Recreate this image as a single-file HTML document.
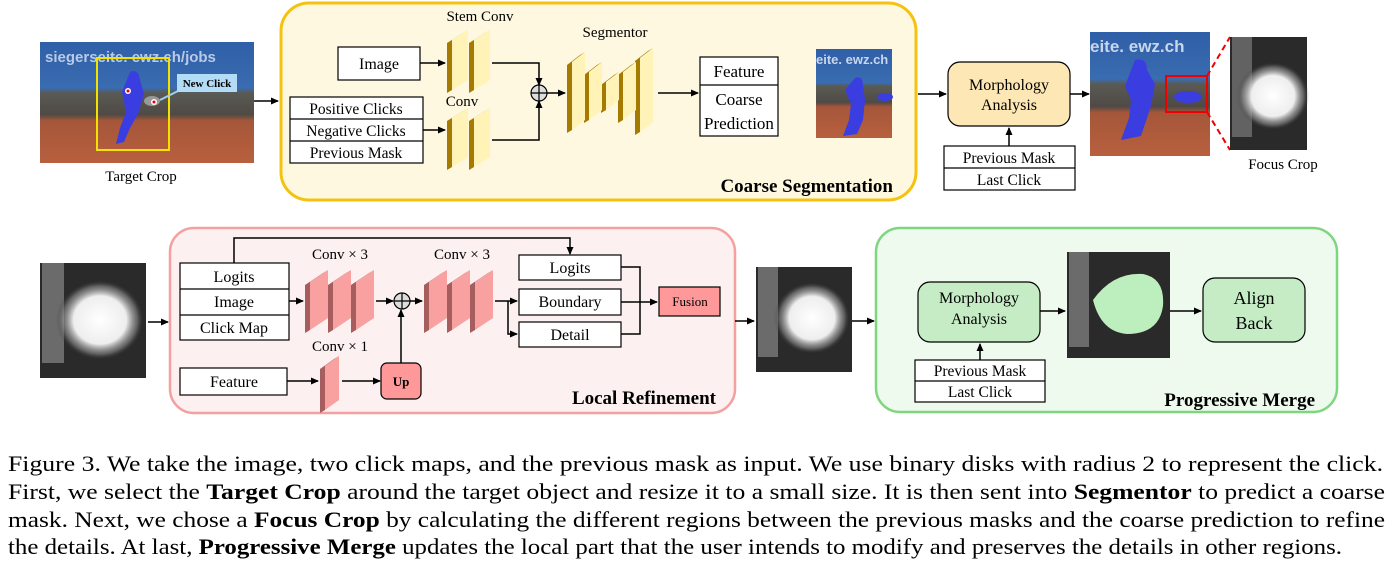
<!DOCTYPE html>
<html><head><meta charset="utf-8"><style>
html,body{margin:0;padding:0;background:#fff;}
svg{display:block;font-family:"Liberation Serif",serif;}
</style></head><body>
<svg width="1395" height="579" viewBox="0 0 1395 579" xmlns="http://www.w3.org/2000/svg">
<defs>
<marker id="a" markerWidth="8" markerHeight="8" refX="7" refY="4" orient="auto" markerUnits="userSpaceOnUse"><path d="M0,0.5 L8,4 L0,7.5 z" fill="#000"/></marker>
<linearGradient id="tennis" x1="0" y1="0" x2="0" y2="1">
<stop offset="0" stop-color="#2f5fa8"/><stop offset="0.38" stop-color="#3a6cb0"/><stop offset="0.42" stop-color="#5a5a55"/><stop offset="0.6" stop-color="#4f4a45"/><stop offset="0.65" stop-color="#a5563a"/><stop offset="1" stop-color="#b8603e"/></linearGradient>
<radialGradient id="blob" cx="0.5" cy="0.5" r="0.5"><stop offset="0" stop-color="#fff"/><stop offset="0.6" stop-color="#eee"/><stop offset="0.85" stop-color="#888" stop-opacity="0.6"/><stop offset="1" stop-color="#2a2a2a" stop-opacity="0"/></radialGradient>
</defs>

<!-- Target crop -->
<rect x="40" y="42" width="214" height="121" fill="url(#tennis)"/>
<text x="45" y="62" font-family="Liberation Sans,sans-serif" font-weight="bold" font-size="15" fill="#b8cbe6">siegerseite. ewz.ch/jobs</text>
<path d="M130,72 q8,-4 10,8 l4,14 l-6,20 l-8,14 l-6,14 l-8,2 l4,-16 l6,-16 l-4,-20 z" fill="#3a3ee0"/>
<ellipse cx="152" cy="101" rx="8" ry="5" fill="#999"/>
<circle cx="128" cy="91" r="3" fill="#fff"/><circle cx="128" cy="91" r="1.5" fill="#e00"/>
<circle cx="154" cy="102" r="3" fill="#fff"/><circle cx="154" cy="102" r="1.5" fill="#e00"/>
<rect x="97" y="58" width="72" height="92" fill="none" stroke="#f3e100" stroke-width="2"/>
<line x1="160" y1="100" x2="180" y2="90" stroke="#9cd0f2" stroke-width="2"/>
<rect x="177" y="74" width="60" height="18" fill="#b3dcf7"/>
<text x="207" y="87" font-size="11" font-weight="bold" text-anchor="middle">New Click</text>
<text x="141" y="181" font-size="15" text-anchor="middle">Target Crop</text>
<line x1="254" y1="101" x2="278" y2="101" stroke="#000" stroke-width="1.5" marker-end="url(#a)"/>

<!-- Coarse segmentation -->
<rect x="281" y="3" width="635" height="197" rx="28" fill="#fff8e0" stroke="#f5c20f" stroke-width="3"/>
<rect x="338" y="47" width="82" height="33" fill="#fff" stroke="#000" stroke-width="1.2"/>
<text x="379" y="69" font-size="16" text-anchor="middle">Image</text>
<rect x="290" y="97" width="133" height="66" fill="#fff" stroke="#000" stroke-width="1.2"/>
<line x1="290" y1="119" x2="423" y2="119" stroke="#000" stroke-width="1.2"/>
<line x1="290" y1="141" x2="423" y2="141" stroke="#000" stroke-width="1.2"/>
<text x="356" y="114" font-size="15.5" text-anchor="middle">Positive Clicks</text>
<text x="356" y="136" font-size="15.5" text-anchor="middle">Negative Clicks</text>
<text x="356" y="158" font-size="15.5" text-anchor="middle">Previous Mask</text>
<text x="480" y="21" font-size="15" text-anchor="middle">Stem Conv</text>
<text x="462" y="106" font-size="15" text-anchor="middle">Conv</text>
<text x="615" y="37" font-size="15" text-anchor="middle">Segmentor</text>
<g fill="#a57a00">
<polygon points="447,43 463,33 468,30 452,40 452,90 447,93"/><polygon points="469,43 485,33 490,30 474,40 474,90 469,93"/>
<polygon points="447,121 463,111 468,108 452,118 452,167 447,170"/><polygon points="469,121 485,111 490,108 474,118 474,167 469,170"/>
<polygon points="567,65 580,55 585,52 572,62 572,130 567,133"/><polygon points="584,75 597,65 602,62 589,72 589,120 584,123"/>
<polygon points="601,85 614,75 619,72 606,82 606,110 601,113"/><polygon points="618,75 631,65 636,62 623,72 623,120 618,123"/>
<polygon points="635,61 648,51 653,48 640,58 640,132 635,135"/>
</g>
<g fill="#fff3b8">
<polygon points="452,40 468,30 468,80 452,90"/><polygon points="474,40 490,30 490,80 474,90"/>
<polygon points="452,118 468,108 468,157 452,167"/><polygon points="474,118 490,108 490,157 474,167"/>
<polygon points="572,62 585,52 585,120 572,130"/><polygon points="589,72 602,62 602,110 589,120"/>
<polygon points="606,82 619,72 619,100 606,110"/><polygon points="623,72 636,62 636,110 623,120"/>
<polygon points="640,58 653,48 653,122 640,132"/>
</g>
<g stroke="#000" stroke-width="1.5" fill="none">
<line x1="420" y1="63" x2="445" y2="63" marker-end="url(#a)"/>
<line x1="423" y1="130" x2="445" y2="130" marker-end="url(#a)"/>
<polyline points="492,63 539,63 539,85" marker-end="url(#a)"/>
<polyline points="492,140 539,140 539,101" marker-end="url(#a)"/>
<line x1="547" y1="93" x2="565" y2="93" marker-end="url(#a)"/>
<line x1="658" y1="93" x2="698" y2="93" marker-end="url(#a)"/>
</g>
<circle cx="539" cy="93" r="8" fill="#ddd" stroke="#000" stroke-width="1.2"/>
<path d="M531,93 H547 M539,85 V101" stroke="#000" stroke-width="1.2"/>
<rect x="700" y="57" width="78" height="79" fill="#fff" stroke="#000" stroke-width="1.2"/>
<line x1="700" y1="85" x2="778" y2="85" stroke="#000" stroke-width="1.2"/>
<text x="739" y="77" font-size="17" text-anchor="middle">Feature</text>
<text x="739" y="105" font-size="17" text-anchor="middle">Coarse</text>
<text x="739" y="129" font-size="17" text-anchor="middle">Prediction</text>
<rect x="816" y="49" width="76" height="89" fill="url(#tennis)"/>
<text x="816" y="64" font-family="Liberation Sans,sans-serif" font-weight="bold" font-size="13" fill="#c8d6ec">eite. ewz.ch</text>
<path d="M855,78 q8,-3 8,8 l2,14 l-2,20 l-6,14 l-14,2 l6,-16 l2,-16 l-6,-14 z" fill="#3a3ee0"/>
<ellipse cx="885" cy="97" rx="8" ry="4" fill="#3a3ee0"/>
<text x="893" y="192" font-size="19" font-weight="bold" text-anchor="end">Coarse Segmentation</text>

<!-- Morphology top -->
<line x1="918" y1="94" x2="946" y2="94" stroke="#000" stroke-width="1.5" marker-end="url(#a)"/>
<rect x="948" y="62" width="122" height="64" rx="12" fill="#fde7b4" stroke="#000" stroke-width="1.2"/>
<text x="1009" y="90" font-size="16" text-anchor="middle">Morphology</text>
<text x="1009" y="110" font-size="16" text-anchor="middle">Analysis</text>
<rect x="944" y="146" width="131" height="44" fill="#fff" stroke="#000" stroke-width="1.2"/>
<line x1="944" y1="168" x2="1075" y2="168" stroke="#000" stroke-width="1.2"/>
<text x="1009" y="163" font-size="15.5" text-anchor="middle">Previous Mask</text>
<text x="1009" y="185" font-size="15.5" text-anchor="middle">Last Click</text>
<line x1="1009" y1="146" x2="1009" y2="128" stroke="#000" stroke-width="1.5" marker-end="url(#a)"/>
<line x1="1070" y1="94" x2="1089" y2="94" stroke="#000" stroke-width="1.5" marker-end="url(#a)"/>
<rect x="1090" y="32" width="120" height="124" fill="url(#tennis)"/>
<text x="1090" y="52" font-family="Liberation Sans,sans-serif" font-weight="bold" font-size="17" fill="#c8d6ec">eite. ewz.ch</text>
<path d="M1135,60 q12,-3 12,10 l8,14 l-4,22 l-10,30 l-20,4 l8,-22 l2,-18 l-6,-14 z" fill="#3a3ee0"/>
<ellipse cx="1188" cy="97" rx="14" ry="6" fill="#3a3ee0"/>
<rect x="1166" y="76" width="41" height="36" fill="none" stroke="#e00" stroke-width="2"/>
<path d="M1207,76 L1230,37 M1207,112 L1230,150" stroke="#e00" stroke-width="2" stroke-dasharray="6,4"/>
<rect x="1230" y="37" width="77" height="113" fill="#2a2a2a"/>
<rect x="1232" y="37" width="20" height="100" fill="#888" opacity="0.6"/>
<ellipse cx="1273" cy="96" rx="36" ry="34" fill="url(#blob)"/>
<text x="1283" y="169" font-size="15" text-anchor="middle">Focus Crop</text>

<!-- Bottom left image -->
<rect x="40" y="263" width="106" height="115" fill="#2a2a2a"/>
<rect x="42" y="263" width="22" height="100" fill="#888" opacity="0.7"/>
<ellipse cx="100" cy="320" rx="44" ry="40" fill="url(#blob)"/>
<line x1="148" y1="322" x2="168" y2="322" stroke="#000" stroke-width="1.5" marker-end="url(#a)"/>

<!-- Local refinement -->
<rect x="170" y="228" width="565" height="185" rx="24" fill="#fcf0f0" stroke="#f4a0a0" stroke-width="2.5"/>
<rect x="180" y="263" width="109" height="77" fill="#fff" stroke="#000" stroke-width="1.2"/>
<line x1="180" y1="289" x2="289" y2="289" stroke="#000" stroke-width="1.2"/>
<line x1="180" y1="315" x2="289" y2="315" stroke="#000" stroke-width="1.2"/>
<text x="234" y="282" font-size="16" text-anchor="middle">Logits</text>
<text x="234" y="307" font-size="16" text-anchor="middle">Image</text>
<text x="234" y="333" font-size="16" text-anchor="middle">Click Map</text>
<text x="340" y="259" font-size="15" text-anchor="middle">Conv × 3</text>
<text x="462" y="259" font-size="15" text-anchor="middle">Conv × 3</text>
<text x="340" y="351" font-size="15" text-anchor="middle">Conv × 1</text>
<g fill="#a55d5d">
<polygon points="305,285 323,273 328,270 310,282 310,330 305,333"/><polygon points="328,285 346,273 351,270 333,282 333,330 328,333"/><polygon points="351,285 369,273 374,270 356,282 356,330 351,333"/>
<polygon points="424,285 442,273 447,270 429,282 429,330 424,333"/><polygon points="447,285 465,273 470,270 452,282 452,330 447,333"/><polygon points="470,285 488,273 493,270 475,282 475,330 470,333"/>
<polygon points="320,369 334,359 339,356 325,366 325,410 320,413"/>
</g>
<g fill="#f9a0a0">
<polygon points="310,282 328,270 328,318 310,330"/><polygon points="333,282 351,270 351,318 333,330"/><polygon points="356,282 374,270 374,318 356,330"/>
<polygon points="429,282 447,270 447,318 429,330"/><polygon points="452,282 470,270 470,318 452,330"/><polygon points="475,282 493,270 493,318 475,330"/>
<polygon points="325,366 339,356 339,400 325,410"/>
</g>
<rect x="180" y="368" width="107" height="27" fill="#fff" stroke="#000" stroke-width="1.2"/>
<text x="234" y="387" font-size="16" text-anchor="middle">Feature</text>
<rect x="381" y="363" width="40" height="36" rx="6" fill="#f99" stroke="#000" stroke-width="1.2"/>
<text x="401" y="386" font-size="13" font-weight="bold" text-anchor="middle">Up</text>
<rect x="519" y="255" width="102" height="25" fill="#fff" stroke="#000" stroke-width="1.2"/>
<rect x="519" y="289" width="102" height="26" fill="#fff" stroke="#000" stroke-width="1.2"/>
<rect x="519" y="322" width="102" height="25" fill="#fff" stroke="#000" stroke-width="1.2"/>
<text x="570" y="273" font-size="16" text-anchor="middle">Logits</text>
<text x="570" y="307" font-size="16" text-anchor="middle">Boundary</text>
<text x="570" y="340" font-size="16" text-anchor="middle">Detail</text>
<rect x="659" y="287" width="61" height="29" fill="#f99" stroke="#000" stroke-width="1.2"/>
<text x="690" y="306" font-size="13" text-anchor="middle">Fusion</text>
<g stroke="#000" stroke-width="1.5" fill="none">
<line x1="289" y1="301" x2="303" y2="301" marker-end="url(#a)"/>
<line x1="376" y1="301" x2="393" y2="301" marker-end="url(#a)"/>
<line x1="410" y1="301" x2="422" y2="301" marker-end="url(#a)"/>
<line x1="401" y1="363" x2="401" y2="310" marker-end="url(#a)"/>
<line x1="287" y1="381" x2="318" y2="381" marker-end="url(#a)"/>
<line x1="342" y1="381" x2="380" y2="381" marker-end="url(#a)"/>
<polyline points="234,263 234,238 570,238 570,254" marker-end="url(#a)"/>
<line x1="495" y1="301" x2="517" y2="301" marker-end="url(#a)"/>
<polyline points="508,301 508,334 517,334" marker-end="url(#a)"/>
<polyline points="621,267 640,267 640,334 621,334"/>
<line x1="621" y1="302" x2="657" y2="302" marker-end="url(#a)"/>
<line x1="735" y1="321" x2="754" y2="321" marker-end="url(#a)"/>
<line x1="852" y1="321" x2="874" y2="321" marker-end="url(#a)"/>
</g>
<circle cx="402" cy="301" r="8" fill="#ddd" stroke="#000" stroke-width="1.2"/>
<path d="M394,301 H410 M402,293 V309" stroke="#000" stroke-width="1.2"/>
<text x="716" y="404" font-size="19" font-weight="bold" text-anchor="end">Local Refinement</text>

<!-- middle image -->
<rect x="756" y="267" width="96" height="105" fill="#2a2a2a"/>
<rect x="758" y="267" width="20" height="90" fill="#888" opacity="0.7"/>
<ellipse cx="812" cy="318" rx="38" ry="36" fill="url(#blob)"/>

<!-- Progressive merge -->
<rect x="876" y="228" width="461" height="184" rx="24" fill="#eefaee" stroke="#7ed67e" stroke-width="2.5"/>
<rect x="918" y="282" width="122" height="60" rx="12" fill="#c5ecc5" stroke="#000" stroke-width="1.2"/>
<text x="979" y="303" font-size="16" text-anchor="middle">Morphology</text>
<text x="979" y="324" font-size="16" text-anchor="middle">Analysis</text>
<rect x="915" y="360" width="130" height="42" fill="#fff" stroke="#000" stroke-width="1.2"/>
<line x1="915" y1="381" x2="1045" y2="381" stroke="#000" stroke-width="1.2"/>
<text x="980" y="376" font-size="15.5" text-anchor="middle">Previous Mask</text>
<text x="980" y="397" font-size="15.5" text-anchor="middle">Last Click</text>
<g stroke="#000" stroke-width="1.5">
<line x1="980" y1="360" x2="980" y2="344" marker-end="url(#a)"/>
<line x1="1040" y1="311" x2="1065" y2="311" marker-end="url(#a)"/>
<line x1="1170" y1="311" x2="1201" y2="311" marker-end="url(#a)"/>
</g>
<rect x="1067" y="252" width="103" height="106" fill="#2a2a2a"/>
<rect x="1069" y="252" width="20" height="95" fill="#888" opacity="0.7"/>
<path d="M1093,300 q20,-28 50,-26 q22,4 20,32 q-4,28 -36,28 q-26,-2 -34,-34 z" fill="#bdeebd"/>
<rect x="1203" y="278" width="102" height="64" rx="12" fill="#c5ecc5" stroke="#000" stroke-width="1.2"/>
<text x="1254" y="304" font-size="18" text-anchor="middle">Align</text>
<text x="1254" y="329" font-size="18" text-anchor="middle">Back</text>
<text x="1315" y="406" font-size="19" font-weight="bold" text-anchor="end">Progressive Merge</text>

<!-- Caption -->
<g font-size="22">
<text x="8" y="471" textLength="1375" lengthAdjust="spacingAndGlyphs">Figure 3.  We take the image, two click maps, and the previous mask as input.  We use binary disks with radius 2 to represent the click.</text>
<text x="8" y="499" textLength="1377" lengthAdjust="spacingAndGlyphs">First, we select the <tspan font-weight="bold">Target Crop</tspan> around the target object and resize it to a small size.  It is then sent into <tspan font-weight="bold">Segmentor</tspan> to predict a coarse</text>
<text x="8" y="527" textLength="1377" lengthAdjust="spacingAndGlyphs">mask.  Next, we chose a <tspan font-weight="bold">Focus Crop</tspan> by calculating the different regions between the previous masks and the coarse prediction to refine</text>
<text x="8" y="554" textLength="1334" lengthAdjust="spacingAndGlyphs">the details. At last, <tspan font-weight="bold">Progressive Merge</tspan> updates the local part that the user intends to modify and preserves the details in other regions.</text>
</g>
</svg>
</body></html>
